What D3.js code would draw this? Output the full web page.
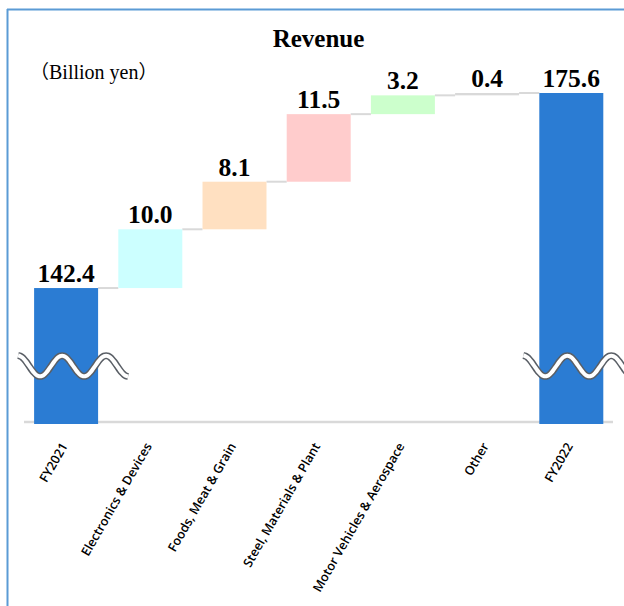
<!DOCTYPE html>
<html>
<head>
<meta charset="utf-8">
<script src="https://cdn.jsdelivr.net/npm/d3@7"></script>
<style>
  html, body { margin: 0; padding: 0; background: #fff; overflow: hidden; }
  svg { display: block; }
</style>
</head>
<body>
<script>
// ---- data ----
const categories = ["FY2021", "Electronics & Devices", "Foods, Meat & Grain", "Steel, Materials & Plant", "Motor Vehicles & Aerospace", "Other", "FY2022"];
const values = [142.4, 10.0, 8.1, 11.5, 3.2, 0.4, 175.6];
const valueLabels = ["142.4", "10.0", "8.1", "11.5", "3.2", "0.4", "175.6"];
const kinds = ["total", "delta", "delta", "delta", "delta", "delta", "total"];
const barColors = ["#2B7CD3", "#CCFFFF", "#FFE0C1", "#FFCCCC", "#CCFFCC", "#D9D9D9", "#2B7CD3"];
const titleText = "Revenue";
const unitText = "Billion yen";

const W = 624, H = 606;
const svg = d3.select("body").append("svg").attr("width", W).attr("height", H);

// frame (left and top edges visible)
svg.append("line").attr("x1", 7.5).attr("x2", 7.5).attr("y1", 9).attr("y2", H)
  .attr("stroke", "#5B9BD5").attr("stroke-width", 2);
svg.append("line").attr("x1", 7).attr("x2", W).attr("y1", 9.5).attr("y2", 9.5)
  .attr("stroke", "#5B9BD5").attr("stroke-width", 2);

// scales (axis is broken: baseline sits well above zero)
const x = d3.scaleBand().domain(categories).range([24, 613.4]).paddingInner(0.24).paddingOuter(0.12);
const y = d3.scaleLinear().domain([119.6, 175.6]).range([422, 93]);

// compute waterfall segments
let running = 0;
const segs = categories.map((c, i) => {
  let lo, hi;
  if (kinds[i] === "total") { lo = y.domain()[0]; hi = values[i]; running = values[i]; }
  else { lo = running; hi = running + values[i]; running = hi; }
  return { c, i, lo, hi, v: values[i] };
});

// axis line
svg.append("line").attr("x1", 24).attr("x2", 613).attr("y1", 422).attr("y2", 422)
  .attr("stroke", "#D9D9D9").attr("stroke-width", 2.5);

// connectors
for (let i = 0; i < segs.length - 1; i++) {
  const lvl = segs[i].hi;
  svg.append("line")
    .attr("x1", x(segs[i].c) + x.bandwidth()).attr("x2", x(segs[i + 1].c))
    .attr("y1", y(lvl)).attr("y2", y(lvl))
    .attr("stroke", "#D9D9D9").attr("stroke-width", 2);
}

// bars
svg.selectAll("rect.bar").data(segs).enter().append("rect")
  .attr("class", "bar")
  .attr("x", d => x(d.c))
  .attr("width", x.bandwidth())
  .attr("y", d => y(d.hi))
  .attr("height", d => (kinds[d.i] === "total" ? y(d.lo) + 2 : y(d.lo)) - y(d.hi))
  .attr("fill", d => barColors[d.i]);

// value labels
svg.selectAll("text.val").data(segs).enter().append("text")
  .attr("class", "val")
  .attr("x", d => x(d.c) + x.bandwidth() / 2)
  .attr("y", d => y(d.hi) - 6)
  .attr("text-anchor", "middle")
  .attr("font-family", "'Liberation Serif', 'Times New Roman', serif")
  .attr("font-weight", "bold")
  .attr("font-size", 25.5)
  .attr("fill", "#000")
  .text(d => valueLabels[d.i]);

// break symbols on total bars
const waveLine = d3.line().curve(d3.curveBasis);
segs.filter(d => kinds[d.i] === "total").forEach(d => {
  const cx = x(d.c) + x.bandwidth() / 2;
  const pts = d3.range(0, 111, 2).map(t => [cx - 48 + t, 366 - 10.5 * Math.cos(t / 44 * 2 * Math.PI)]);
  svg.append("path").attr("d", waveLine(pts)).attr("fill", "none")
    .attr("stroke", "#5A5F66").attr("stroke-width", 7).attr("stroke-linecap", "butt");
  svg.append("path").attr("d", waveLine(pts)).attr("fill", "none")
    .attr("stroke", "#FFFFFF").attr("stroke-width", 4).attr("stroke-linecap", "butt");
});

// category labels
svg.selectAll("text.cat").data(categories).enter().append("text")
  .attr("class", "cat")
  .attr("transform", c => `translate(${x(c) + x.bandwidth() / 2 + 2},${446}) rotate(-60)`)
  .attr("text-anchor", "end")
  .attr("font-family", "'Open Sans', 'Noto Sans', sans-serif")
  .attr("font-weight", 600)
  .attr("font-size", 12.6)
  .attr("fill", "#000")
  .text(c => c);

// title & unit
svg.append("text").attr("x", 318.5).attr("y", 47).attr("text-anchor", "middle")
  .attr("font-family", "'Liberation Serif', 'Times New Roman', serif")
  .attr("font-weight", "bold").attr("font-size", 25).text(titleText);
const unit = svg.append("text").attr("x", 30).attr("y", 79)
  .attr("font-family", "'Liberation Serif', 'Times New Roman', serif")
  .attr("font-size", 20);
unit.append("tspan").attr("font-family", "'Noto Sans CJK JP', sans-serif").attr("font-size", 19).text("（");
unit.append("tspan").text(unitText);
unit.append("tspan").attr("font-family", "'Noto Sans CJK JP', sans-serif").attr("font-size", 19).text("）");
</script>
</body>
</html>
